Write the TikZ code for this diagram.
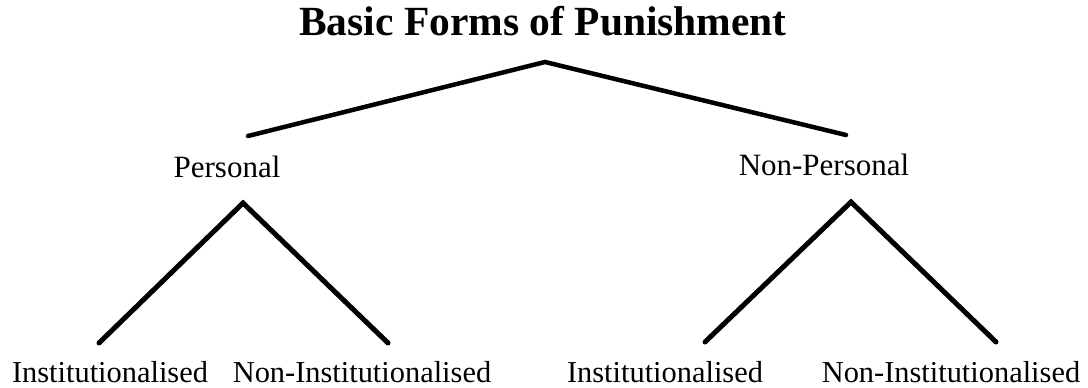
\documentclass[tikz,border=0pt]{standalone}
\usepackage{fontspec}
\setmainfont{Liberation Serif}
\begin{document}
\begin{tikzpicture}[x=1pt, y=-1pt,
  label/.style={anchor=base, inner sep=0pt, font=\fontsize{31}{36}\selectfont},
  leaf/.style={anchor=base, inner sep=0pt, font=\fontsize{30.4}{35}\selectfont},
  branch/.style={line width=5pt, line cap=round, line join=miter}]
  \useasboundingbox (0,0) rectangle (1088,388);
  % title
  \node[anchor=base, inner sep=0pt, font=\fontsize{41.5}{48}\selectfont\bfseries] (title) at (543,35) {Basic Forms of Punishment};
  % first split
  \coordinate (top) at (545,62);
  \coordinate (topL) at (248,136);
  \coordinate (topR) at (846,135);
  \draw[branch, line width=4.5pt] (topL) -- (top) -- (topR);
  \node[label] (pers) at (227,177) {Personal};
  \node[label] (npers) at (824,175) {Non-Personal};
  % personal
  \coordinate (pTop) at (243,203);
  \coordinate (pL) at (99,343);
  \coordinate (pR) at (388,343);
  \draw[branch] (pL) -- (pTop) -- (pR);
  % non-personal
  \coordinate (nTop) at (851,202);
  \coordinate (nL) at (705,342);
  \coordinate (nR) at (996,342);
  \draw[branch] (nL) -- (nTop) -- (nR);
  % leaves
  \node[leaf] (pInst) at (110,382) {Institutionalised};
  \node[leaf] (pNon) at (362,382) {Non-Institutionalised};
  \node[leaf] (nInst) at (665,382) {Institutionalised};
  \node[leaf] (nNon) at (951,382) {Non-Institutionalised};
\end{tikzpicture}
\end{document}
